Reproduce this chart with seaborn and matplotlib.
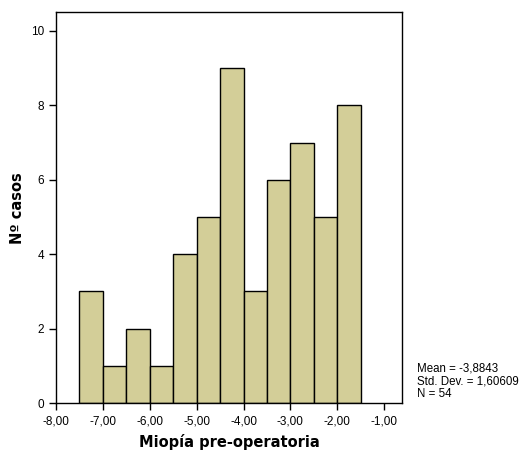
import matplotlib
matplotlib.use("Agg")
import matplotlib.pyplot as plt
import numpy as np
import seaborn as sns

# Histogram data
bin_edges = [-7.5, -7.0, -6.5, -6.0, -5.5, -5.0, -4.5, -4.0, -3.5, -3.0, -2.5, -2.0, -1.5]
counts = [3, 1, 2, 1, 4, 5, 9, 3, 6, 7, 5, 8]
x_ticks = [-8, -7, -6, -5, -4, -3, -2, -1]
x_tick_labels = ["-8,00", "-7,00", "-6,00", "-5,00", "-4,00", "-3,00", "-2,00", "-1,00"]
y_ticks = [0, 2, 4, 6, 8, 10]
stats_text = "Mean = -3,8843\nStd. Dev. = 1,60609\nN = 54"

sns.set_style("ticks")
plt.rcParams["font.family"] = ["Liberation Sans", "DejaVu Sans"]
plt.rcParams["text.color"] = "black"
plt.rcParams["axes.labelcolor"] = "black"

centers = [(a + b) / 2 for a, b in zip(bin_edges[:-1], bin_edges[1:])]

fig = plt.figure(figsize=(5.24, 4.5), dpi=100)
ax = fig.add_axes([0.107, 0.104, 0.66, 0.869])

sns.histplot(
    x=centers,
    weights=counts,
    bins=bin_edges,
    color="#D3CE98",
    alpha=1.0,
    edgecolor="black",
    linewidth=1.0,
    ax=ax,
)

ax.set_xlim(-8.0, -0.62)
ax.set_ylim(0, 10.5)
ax.set_xticks(x_ticks)
ax.set_xticklabels(x_tick_labels)
ax.set_yticks(y_ticks)
ax.tick_params(axis="both", direction="out", length=5, width=1, labelsize=8.5, colors="black")
for s in ax.spines.values():
    s.set_visible(True)
    s.set_linewidth(1.0)
    s.set_color("black")

ax.set_xlabel("Miopía pre-operatoria", fontsize=10.5, fontweight="bold",
              family="DejaVu Sans", labelpad=5, color="black")
ax.set_ylabel("Nº casos", fontsize=10.5, fontweight="bold",
              family="DejaVu Sans", labelpad=4, color="black")

fig.text(0.795, 0.112, stats_text, fontsize=8.3, ha="left", va="bottom",
         linespacing=1.05, color="black")

plt.savefig("out.png", dpi=100)
plt.close()
